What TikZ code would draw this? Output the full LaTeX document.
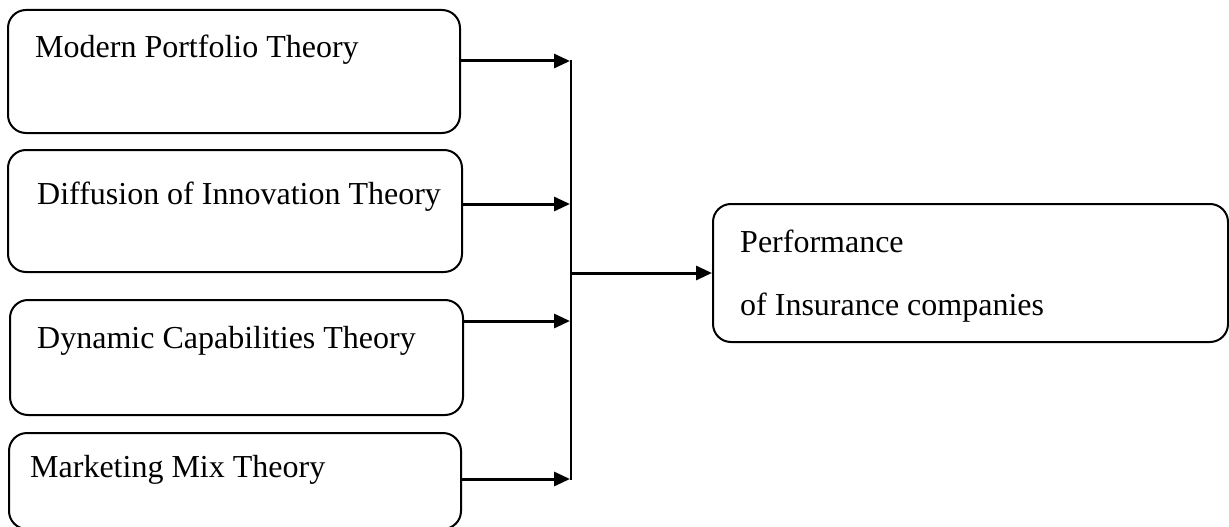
\documentclass[tikz,border=0pt]{standalone}
\usepackage{fontspec}
\setmainfont{Liberation Serif}
\usetikzlibrary{arrows.meta}
\tikzset{
  box/.style={draw, line width=2pt, rounded corners=18pt, inner sep=0pt},
  lbl/.style={anchor=base west, inner sep=0pt, font=\fontsize{32}{38}\selectfont},
  arr/.style={line width=3pt, -{Triangle[length=16pt,width=14pt]}},
  bus/.style={line width=2pt}
}
\begin{document}
\begin{tikzpicture}[x=1pt,y=-1pt]
\useasboundingbox (0,0) rectangle (1229,527);
% left boxes
\node[box, minimum width=452pt, minimum height=123pt] (b1) at (234,71.5) {};
\node[box, minimum width=454pt, minimum height=122pt] (b2) at (235,211) {};
\node[box, minimum width=453pt, minimum height=115pt] (b3) at (236.5,357.5) {};
\node[box, minimum width=452pt, minimum height=96pt] (b4) at (235,481) {};
% right box
\node[box, minimum width=515pt, minimum height=138pt] (rb) at (970.5,273) {};
% texts
\node[lbl] (t1) at (35,58) {Modern Portfolio Theory};
\node[lbl] (t2) at (37,204) {Diffusion of Innovation Theory};
\node[lbl] (t3) at (37,348) {Dynamic Capabilities Theory};
\node[lbl] (t4) at (30,477) {Marketing Mix Theory};
\node[lbl] (t5) at (740,252) {Performance};
\node[lbl] (t6) at (740,315) {of Insurance companies};
% junction coordinates
\coordinate (j1) at (570,61);
\coordinate (j2) at (570,204);
\coordinate (j3) at (570,321);
\coordinate (j4) at (570,479);
\coordinate (jm) at (571,273);
\coordinate (top) at (571,60);
\coordinate (bot) at (571,480);
% bus
\draw[bus] (top) -- (bot);
% arrows
\draw[arr] (b1.east |- j1) -- (j1);
\draw[arr] (b2.east |- j2) -- (j2);
\draw[arr] (b3.east |- j3) -- (j3);
\draw[arr] (b4.east |- j4) -- (j4);
\draw[arr] (jm) -- (rb.west);
\end{tikzpicture}
\end{document}
